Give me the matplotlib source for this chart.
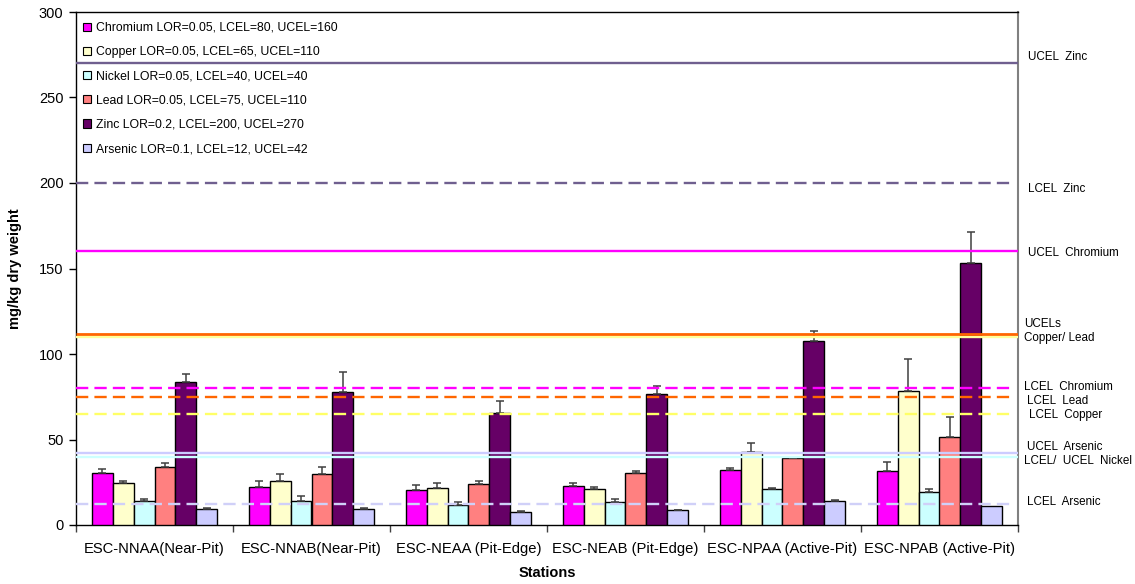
import matplotlib
matplotlib.use("Agg")
import matplotlib.pyplot as plt
import matplotlib.transforms as mtransforms
from matplotlib.patches import Patch
import numpy as np

# ---------------- data ----------------
stations = ["ESC-NNAA(Near-Pit)", "ESC-NNAB(Near-Pit)", "ESC-NEAA (Pit-Edge)",
            "ESC-NEAB (Pit-Edge)", "ESC-NPAA (Active-Pit)", "ESC-NPAB (Active-Pit)"]
metals = ["Chromium", "Copper", "Nickel", "Lead", "Zinc", "Arsenic"]
legend_labels = ["Chromium LOR=0.05, LCEL=80, UCEL=160",
                 "Copper LOR=0.05, LCEL=65, UCEL=110",
                 "Nickel LOR=0.05, LCEL=40, UCEL=40",
                 "Lead LOR=0.05, LCEL=75, UCEL=110",
                 "Zinc LOR=0.2, LCEL=200, UCEL=270",
                 "Arsenic LOR=0.1, LCEL=12, UCEL=42"]

chromium = [30.6, 22.3, 20.4, 22.6, 31.9, 31.3]
chromium_err = [2.0, 3.5, 2.7, 2.1, 1.3, 5.8]
copper = [24.7, 25.8, 21.8, 21.2, 42.8, 78.5]
copper_err = [1.3, 3.9, 2.9, 1.1, 5.2, 18.7]
nickel = [13.9, 13.9, 11.9, 13.6, 21.2, 19.2]
nickel_err = [1.5, 2.8, 1.7, 1.6, 0.6, 1.8]
lead = [34.1, 29.9, 23.9, 30.5, 38.9, 51.3]
lead_err = [2.0, 4.1, 1.9, 1.2, 1.0, 11.9]
zinc = [83.6, 78.0, 65.3, 76.6, 107.5, 153.4]
zinc_err = [4.7, 11.2, 7.2, 4.8, 5.8, 18.0]
arsenic = [9.2, 9.2, 7.8, 8.6, 13.8, 11.1]
arsenic_err = [0.6, 0.6, 0.5, 0.4, 0.8, 0.0]

lcel = [80, 65, 40, 75, 200, 12]
ucel = [160, 110, 40, 110, 270, 42]

y_ticks = [0, 50, 100, 150, 200, 250, 300]

# ---------------- style ----------------
bar_colors = ["#ff00ff", "#ffffcc", "#ccffff", "#ff8080", "#660066", "#ccccff"]
line_colors = ["#ff00ff", "#ffff99", "#ccffff", "#ff6600", "#6f5f8f", "#ccccff"]
lcel_colors = ["#ff00ff", "#ffff66", "#ccffff", "#ff6600", "#6f5f8f", "#d0d0f8"]
line_offsets = [0, 0, 0, 2.5, 0, 0]   # lead UCEL drawn just above copper UCEL

plt.rcParams["font.family"] = ["Liberation Sans", "DejaVu Sans"]

fig = plt.figure(figsize=(11.35, 5.84), dpi=100)
ax = fig.add_axes([76 / 1135, 59 / 584, (1018 - 76) / 1135, (525 - 12) / 584])

values = [chromium, copper, nickel, lead, zinc, arsenic]
errors = [chromium_err, copper_err, nickel_err, lead_err, zinc_err, arsenic_err]
x = np.arange(len(stations))
bw = 0.133
n = len(metals)

# reference lines
draw_order = [4, 0, 1, 3, 2, 5]
for k in draw_order:
    tr = mtransforms.offset_copy(ax.transData, fig=fig, x=0, y=line_offsets[k],
                                 units="dots")
    ax.plot([-0.5, 5.5], [ucel[k], ucel[k]], color=line_colors[k],
            lw=2.0 if k == 3 else 1.7, zorder=4, transform=tr,
            solid_capstyle="butt")
    if lcel[k] != ucel[k]:
        ax.plot([-0.5, 5.45], [lcel[k], lcel[k]], color=lcel_colors[k], lw=1.7,
                zorder=4, dashes=(5.2, 2.6))

for k in range(n):
    pos = x + (k - (n - 1) / 2) * bw
    ax.bar(pos, values[k], width=bw, color=bar_colors[k], edgecolor="black",
           linewidth=1.0, zorder=3, label=legend_labels[k])
    errs = np.array(errors[k])
    mask = errs > 0
    ax.errorbar(pos[mask], np.array(values[k])[mask],
                yerr=[np.zeros(mask.sum()), errs[mask]], fmt="none",
                ecolor="#404040", elinewidth=1.1, capsize=2.6, capthick=1.1,
                zorder=3.5)

ax.set_xlim(-0.5, 5.5)
ax.set_ylim(0, 300)
ax.set_yticks(y_ticks)
ax.set_yticklabels([str(t) for t in y_ticks], fontsize=10.5)
ax.set_xticks(np.arange(len(stations) + 1) - 0.5)
ax.set_xticklabels([])
ax.set_xticks(x, minor=True)
ax.set_xticklabels(stations, minor=True, fontsize=10.6)
ax.tick_params(axis="x", which="minor", length=0, pad=12)
ax.tick_params(axis="x", which="major", length=5, direction="out", width=1,
               color="#404040")
ax.tick_params(axis="y", length=5, direction="out", width=1, pad=4)

for side in ["left", "bottom", "top"]:
    ax.spines[side].set_color("black")
    ax.spines[side].set_linewidth(1.0)
ax.spines["right"].set_color("#808080")
ax.spines["right"].set_linewidth(1.5)

ax.set_ylabel("mg/kg dry weight", fontsize=10.5, fontweight="bold", labelpad=12)
ax.set_xlabel("Stations", fontsize=10.5, fontweight="bold", labelpad=7.5)

# right-side labels
labels_right = [
    ("UCEL  Zinc", 273.5, 1028),
    ("LCEL  Zinc", 196.5, 1028),
    ("UCEL  Chromium", 159.2, 1028),
    ("UCELs", 117.8, 1024),
    ("Copper/ Lead", 109.6, 1024),
    ("LCEL  Chromium", 80.5, 1024),
    ("LCEL  Lead", 72.3, 1027),
    ("LCEL  Copper", 64.1, 1029),
    ("UCEL  Arsenic", 45.5, 1027),
    ("LCEL/  UCEL  Nickel", 37.3, 1024),
    ("LCEL  Arsenic", 13.4, 1027),
]
blend = mtransforms.blended_transform_factory(fig.transFigure, ax.transData)
for txt, yv, xp in labels_right:
    ax.text(xp / 1135, yv, txt, transform=blend, fontsize=8.4,
            va="center", ha="left", clip_on=False)

handles = [Patch(facecolor=bar_colors[k], edgecolor="black", linewidth=0.8)
           for k in range(n)]
leg = ax.legend(handles, legend_labels, loc="upper left",
                bbox_to_anchor=(0.0, 0.995), frameon=False, fontsize=8.8,
                handlelength=0.65, handleheight=0.65, handletextpad=0.35,
                labelspacing=1.0, borderaxespad=0.2)
leg.set_zorder(6)

fig.savefig("out.png", dpi=100)
